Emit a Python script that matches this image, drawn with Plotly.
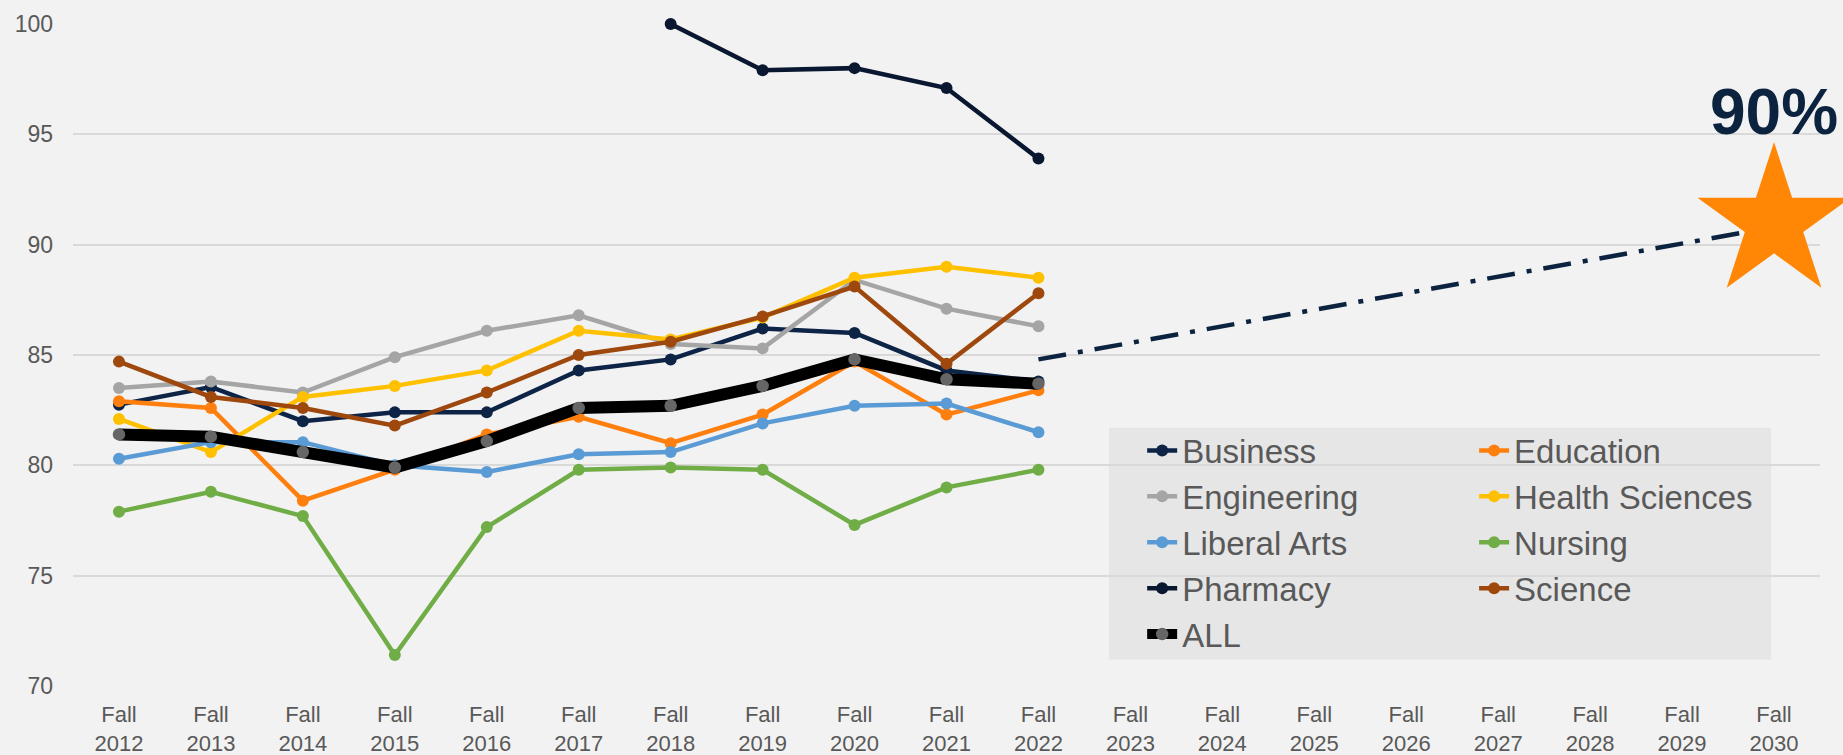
import plotly.graph_objects as go

# Categories (Fall 2012 .. Fall 2030)
years = [2012, 2013, 2014, 2015, 2016, 2017, 2018, 2019, 2020, 2021,
         2022, 2023, 2024, 2025, 2026, 2027, 2028, 2029, 2030]
categories = [f"Fall {y}" for y in years]
tick_text = [f"Fall<br>{y}" for y in years]
data_years = categories[:11]

# Series values (Fall 2012 .. Fall 2022)
business = [82.75, 83.55, 82.0, 82.4, 82.4, 84.3, 84.8, 86.2, 86.0, 84.3, 83.8]
education = [82.9, 82.6, 78.4, 79.8, 81.4, 82.2, 81.0, 82.3, 84.7, 82.3, 83.4]
engineering = [83.5, 83.8, 83.3, 84.9, 86.1, 86.8, 85.5, 85.3, 88.4, 87.1, 86.3]
health_sciences = [82.1, 80.6, 83.1, 83.6, 84.3, 86.1, 85.7, 86.7, 88.5, 89.0, 88.5]
liberal_arts = [80.3, 81.05, 81.05, 80.0, 79.7, 80.5, 80.6, 81.9, 82.7, 82.8, 81.5]
nursing = [77.9, 78.8, 77.7, 71.4, 77.2, 79.8, 79.9, 79.8, 77.3, 79.0, 79.8]
pharmacy = [None, None, None, None, None, None, 100.0, 97.9, 98.0, 97.1, 93.9]
science = [84.7, 83.1, 82.6, 81.8, 83.3, 85.0, 85.6, 86.75, 88.1, 84.6, 87.8]
all_colleges = [81.4, 81.3, 80.6, 79.9, 81.1, 82.6, 82.7, 83.6, 84.8, 83.9, 83.7]

# Goal trend (Fall 2022 -> Fall 2030) and target
trend_x = ["Fall 2022", "Fall 2030"]
trend_y = [84.8, 90.8]
goal_x = ["Fall 2030"]
goal_y = [91.0]
goal_label = "90%"

series = [
    ("Business", business, "#0D2447", "legend"),
    ("Education", education, "#FF7F0E", "legend2"),
    ("Engineering", engineering, "#A5A5A5", "legend"),
    ("Health Sciences", health_sciences, "#FFC000", "legend2"),
    ("Liberal Arts", liberal_arts, "#5B9BD5", "legend"),
    ("Nursing", nursing, "#70AD47", "legend2"),
    ("Pharmacy", pharmacy, "#0A1730", "legend"),
    ("Science", science, "#9E480E", "legend2"),
]

fig = go.Figure()

for name, values, color, legend in series:
    fig.add_trace(
        go.Scatter(
            x=data_years,
            y=values,
            name=name,
            mode="lines+markers",
            line=dict(color=color, width=4.5),
            marker=dict(color=color, size=12),
            legend=legend,
            cliponaxis=False,
        )
    )

fig.add_trace(
    go.Scatter(
        x=data_years,
        y=all_colleges,
        name="ALL",
        mode="lines+markers",
        line=dict(color="#000000", width=12),
        marker=dict(color="#666666", size=12.5),
        legend="legend",
        cliponaxis=False,
    )
)

# Goal trend line
fig.add_trace(
    go.Scatter(
        x=trend_x,
        y=trend_y,
        mode="lines",
        line=dict(color="#0C2340", width=4.5, dash="28px,12px,5px,12px"),
        showlegend=False,
        hoverinfo="skip",
    )
)

# Goal star
fig.add_trace(
    go.Scatter(
        x=goal_x,
        y=goal_y,
        mode="markers",
        marker=dict(symbol="star", size=115, color="#FF8705", line=dict(width=0)),
        showlegend=False,
        cliponaxis=False,
    )
)

fig.add_annotation(
    x="Fall 2030",
    y=96.0,
    text=f"<b>{goal_label}</b>",
    showarrow=False,
    font=dict(family="Liberation Sans, Arial", size=64, color="#0C2340"),
    xanchor="center",
    yanchor="middle",
)

# Legend background box
fig.add_shape(
    type="rect",
    xref="paper",
    yref="paper",
    x0=0.593,
    x1=0.972,
    y0=0.040,
    y1=0.390,
    fillcolor="#E6E6E6",
    line=dict(width=0),
    layer="below",
)

legend_font = dict(family="Liberation Sans, Arial", size=33, color="#595959")

fig.update_layout(
    width=1843,
    height=755,
    paper_bgcolor="#F2F2F2",
    plot_bgcolor="#F2F2F2",
    margin=dict(l=73, r=23.3, t=23.5, b=69.3, autoexpand=False),
    font=dict(family="Liberation Sans, Arial", color="#595959"),
    legend=dict(
        x=0.612,
        y=0.398,
        xanchor="left",
        yanchor="top",
        bgcolor="rgba(0,0,0,0)",
        font=legend_font,
        tracegroupgap=0,
        itemwidth=30,
    ),
    legend2=dict(
        x=0.802,
        y=0.398,
        xanchor="left",
        yanchor="top",
        bgcolor="rgba(0,0,0,0)",
        font=legend_font,
        tracegroupgap=0,
        itemwidth=30,
    ),
    xaxis=dict(
        type="category",
        categoryorder="array",
        categoryarray=categories,
        tickvals=categories,
        ticktext=tick_text,
        range=[-0.5, 18.5],
        showgrid=False,
        showline=False,
        zeroline=False,
        ticks="",
        ticklabelstandoff=13,
        tickfont=dict(size=22, color="#595959"),
    ),
    yaxis=dict(
        range=[70, 100],
        dtick=5,
        showgrid=True,
        gridcolor="#D9D9D9",
        gridwidth=1.5,
        zeroline=False,
        showline=False,
        ticks="",
        ticklabelstandoff=19,
        tickfont=dict(size=23, color="#595959"),
    ),
)

# the page body has a default 8px margin; drop it so the figure fills the window
fig.write_html(
    "out.html",
    config={"displayModeBar": False},
    post_script="document.body.style.margin='0';"
    "document.body.style.background='#F2F2F2';"
    "document.body.style.overflow='hidden';",
)
